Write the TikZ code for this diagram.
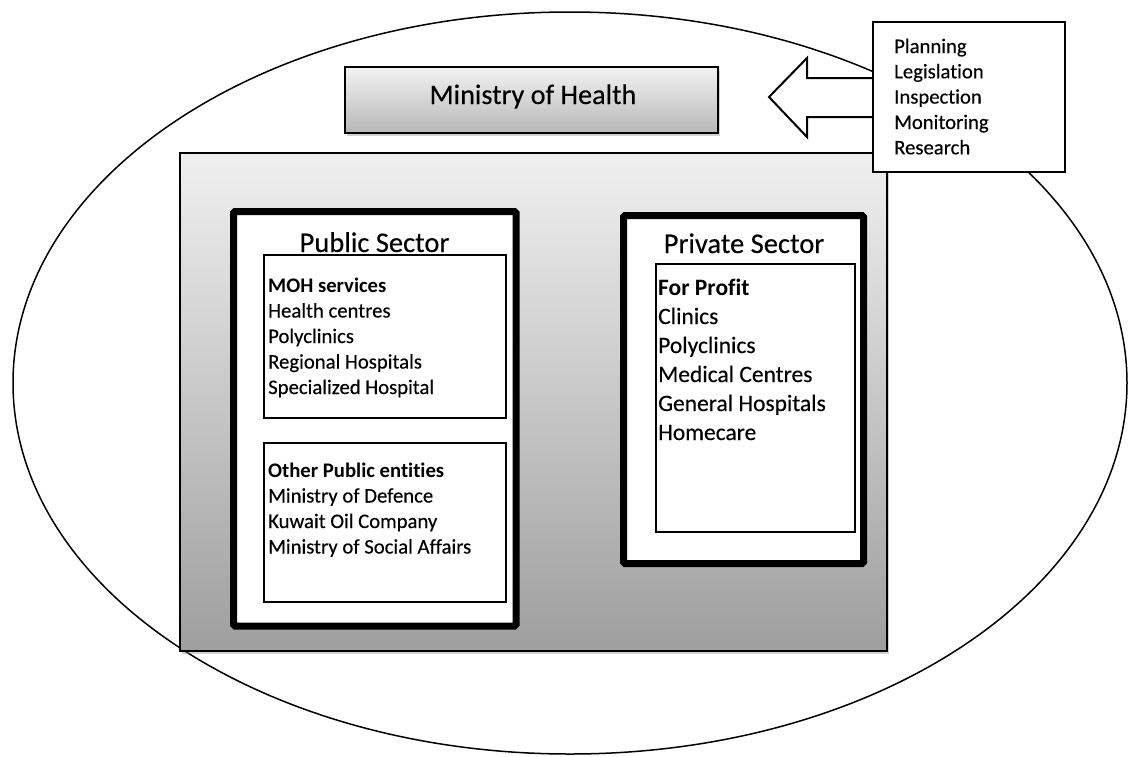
\documentclass[tikz,border=0pt]{standalone}
\usepackage{fontspec}
\setmainfont{Carlito}[Ligatures=CommonOff]
\newfontfamily\regf{Carlito}[Ligatures=CommonOff, FakeBold=0.3]
\usetikzlibrary{shapes.geometric,shadows,calc}
\begin{document}
\begin{tikzpicture}[x=1pt,y=-1pt,
  txt/.style={inner sep=0pt, anchor=base west, font=\fontsize{20.7}{25}\selectfont\regf},
  btxt/.style={inner sep=0pt, anchor=base west, font=\fontsize{20.7}{25}\selectfont\bfseries},
  ptxt/.style={inner sep=0pt, anchor=base west, font=\fontsize{23.5}{28}\selectfont\regf},
  pbtxt/.style={inner sep=0pt, anchor=base west, font=\fontsize{23.5}{28}\selectfont\bfseries},
  ttl/.style={inner sep=0pt, anchor=base, font=\fontsize{28.5}{34}\selectfont\regf},
  thickbox/.style={draw, line width=7pt, fill=white, rounded corners=1.5pt, inner sep=0pt},
  innerbox/.style={draw, line width=2.5pt, fill=white, inner sep=0pt},
  shadowbox/.style={draw, line width=1.3pt, inner sep=0pt,
    drop shadow={shadow xshift=2pt, shadow yshift=-3pt, opacity=.35}}]
\useasboundingbox (0,0) rectangle (1128,756);
% outer ellipse
\node (ell) [ellipse, draw, line width=1.5pt, fill=white, inner sep=0pt,
  minimum width=1114pt, minimum height=742pt] at (570,383) {};
% ministry of health
\node (moh) [shadowbox, top color=black!5, bottom color=black!28,
  minimum width=373pt, minimum height=66pt] at (531.5,100) {};
\node (moht) [inner sep=0pt, anchor=base, font=\fontsize{28.2}{34}\selectfont\regf] at (533,104) {Ministry of Health};
% gray system box
\node (sys) [shadowbox, top color=black!6, bottom color=black!38,
  minimum width=707pt, minimum height=498pt] at (533.5,402) {};
% block arrow
\coordinate (rbw) at (873,97);
\draw[line width=2pt, fill=white, line join=miter]
  ($(rbw)+(0,-19)$) -- (807,78) -- (807,58) -- (769,97) -- (807,137)
  -- (807,117) -- ($(rbw)+(0,20)$) -- cycle;
% functions box
\node (rb) [draw, line width=2.5pt, fill=white, inner sep=0pt,
  minimum width=192pt, minimum height=150pt] at (969,97) {};
\node (f1) [txt] at (894,53) {Planning};
\node (f2) [txt] at (894,78.3) {Legislation};
\node (f3) [txt] at (894,103.6) {Inspection};
\node (f4) [txt] at (894,129) {Monitoring};
\node (f5) [txt] at (894,154.3) {Research};
% public sector
\node (pub) [thickbox, minimum width=282.5pt, minimum height=414.5pt] at (374.75,418.75) {};
\node (pubt) [ttl] at (374.5,252) {Public Sector};
\node (mohs) [innerbox, minimum width=242pt, minimum height=163pt] at (385,336.5) {};
\node (a0) [btxt] at (268,292) {MOH services};
\node (a1) [txt] at (268,317.5) {Health centres};
\node (a2) [txt] at (268,343) {Polyclinics};
\node (a3) [txt] at (268,368.5) {Regional Hospitals};
\node (a4) [txt] at (268,394) {Specialized Hospital};
\node (oth) [innerbox, minimum width=242pt, minimum height=159pt] at (385,522.5) {};
\node (b0) [btxt] at (268,477) {Other Public entities};
\node (b1) [txt] at (268,502.5) {Ministry of Defence};
\node (b2) [txt] at (268,528) {Kuwait Oil Company};
\node (b3) [txt] at (268,553.5) {Ministry of Social Affairs};
% private sector
\node (priv) [thickbox, minimum width=240pt, minimum height=348pt] at (743.5,389.5) {};
\node (privt) [ttl] at (744,253) {Private Sector};
\node (fp) [innerbox, minimum width=199pt, minimum height=268pt] at (755.5,398) {};
\node (c0) [pbtxt] at (658,295) {For Profit};
\node (c1) [ptxt] at (658,324) {Clinics};
\node (c2) [ptxt] at (658,353) {Polyclinics};
\node (c3) [ptxt] at (658,382) {Medical Centres};
\node (c4) [ptxt] at (658,411) {General Hospitals};
\node (c5) [ptxt] at (658,440) {Homecare};
\end{tikzpicture}
\end{document}
